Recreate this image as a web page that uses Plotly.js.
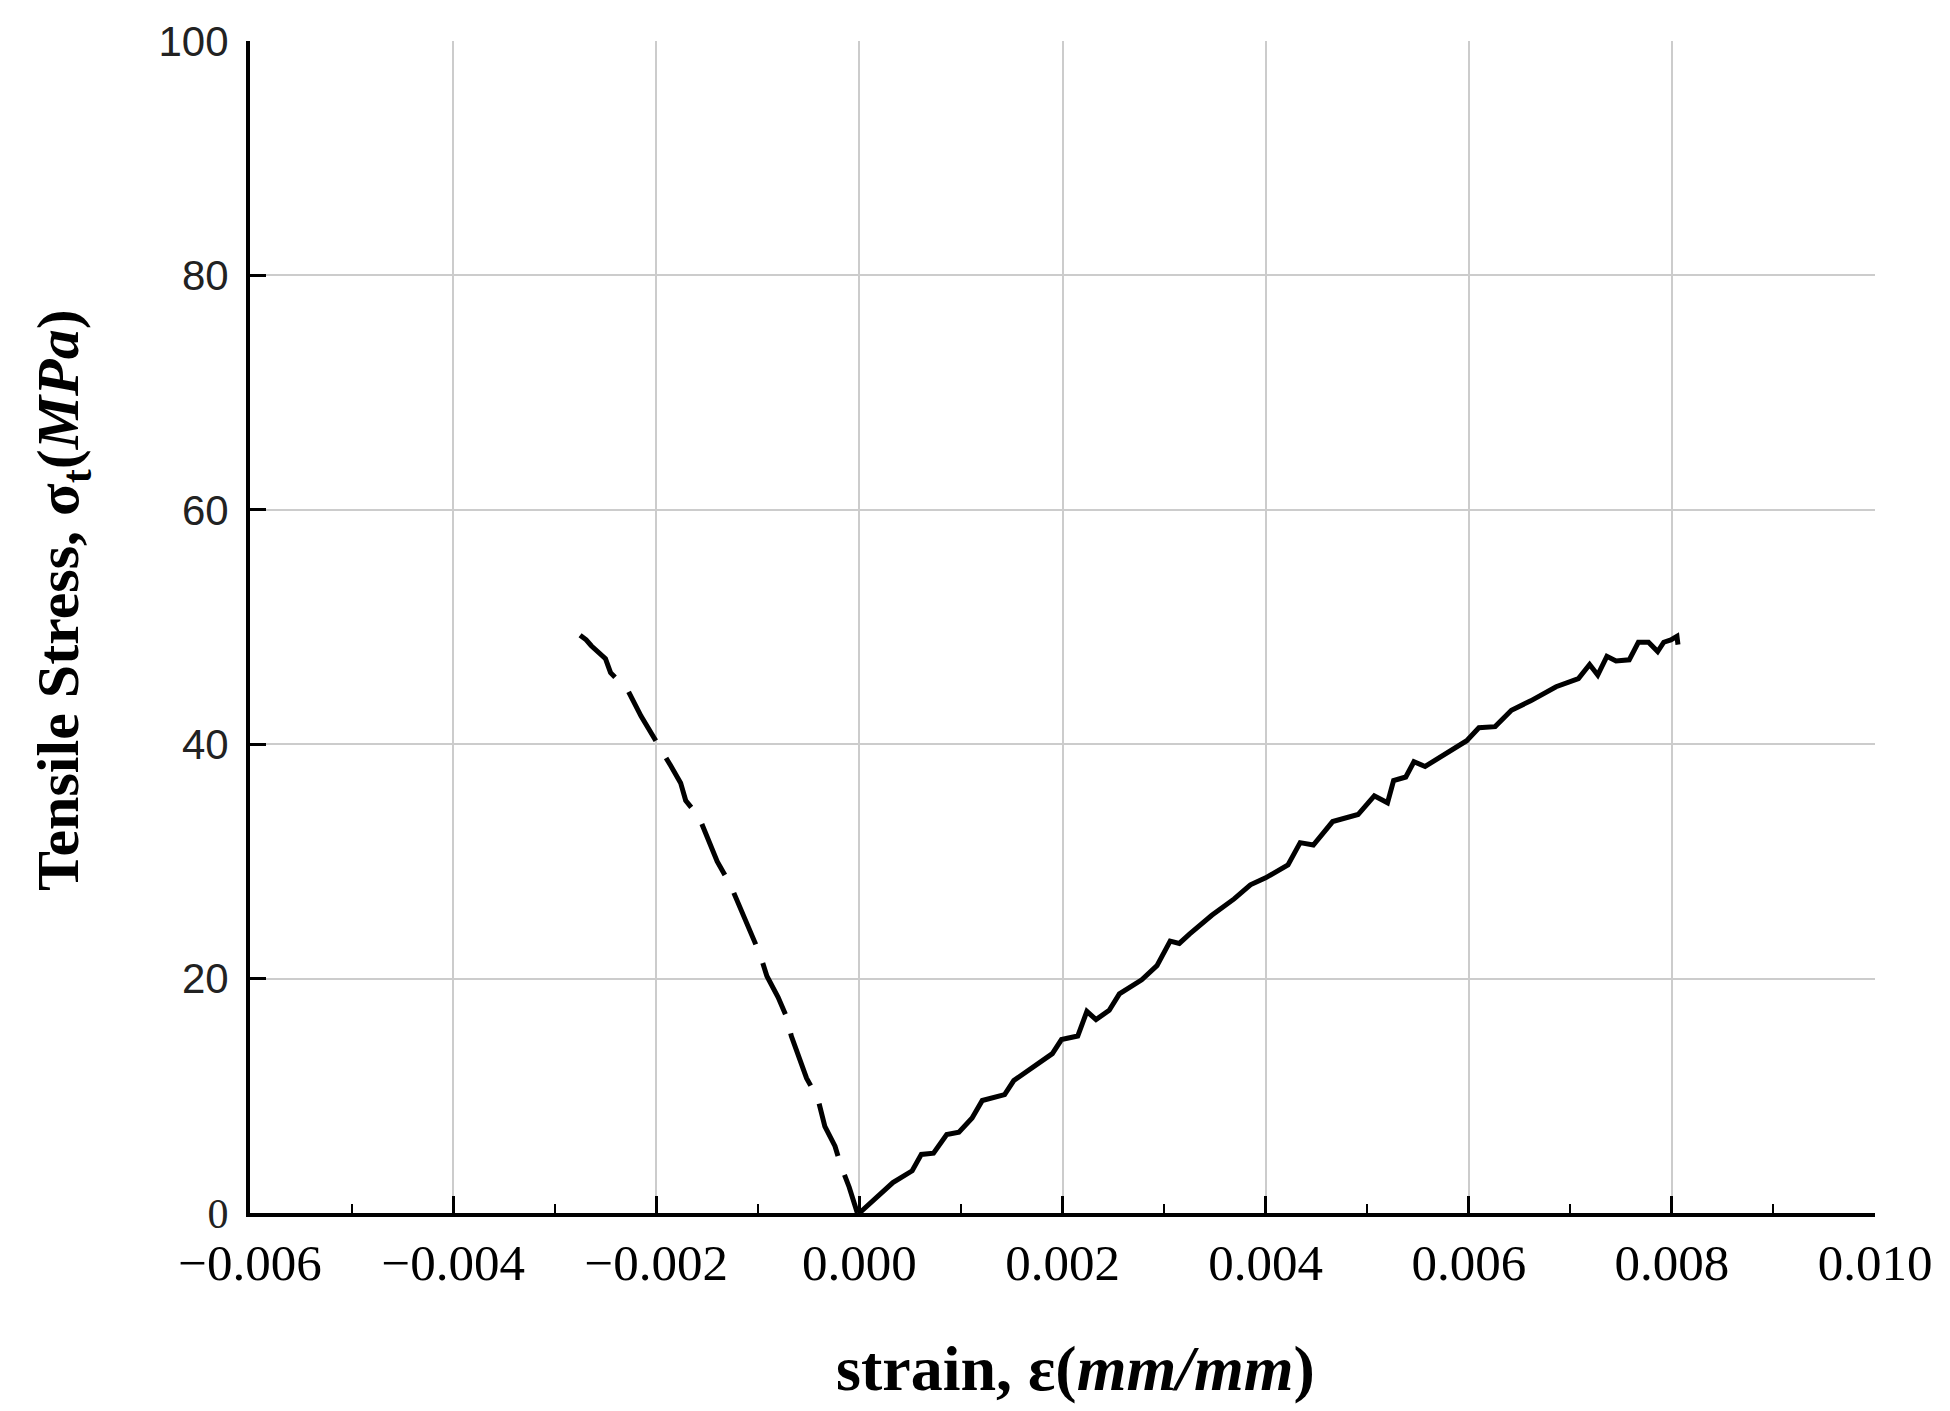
<!DOCTYPE html>
<html>
<head>
<meta charset="utf-8">
<script src="https://cdn.plot.ly/plotly-3.0.1.min.js"></script>
<style>html,body{margin:0;padding:0;background:#fff;}#chart{width:1950px;height:1411px;}</style>
</head>
<body>
<div id="chart"></div>
<script>
// Compression branch (dashed)
const compStrain = [-0.00275,-0.00269,-0.00264,-0.0025,-0.00245,-0.00228,-0.00215,-0.0020,-0.00186,-0.00176,-0.00171,-0.00158,-0.00147,-0.0014,-0.00127,-0.00117,-0.00106,-0.00098,-0.00091,-0.0008,-0.00072,-0.00067,-0.00052,-0.00041,-0.00034,-0.00024,-0.00018,-0.0001,-0.00002];
const compStress = [49.3,48.9,48.4,47.3,46.1,44.6,42.4,40.3,38.2,36.7,35.2,33.8,31.6,30.0,28.0,25.9,23.8,22.1,20.2,18.4,16.8,15.1,11.5,9.8,7.4,5.7,4.0,2.2,0];
// Tension branch (solid)
const tensStrain = [0.0,0.00033,0.00052,0.00061,0.00073,0.00086,0.00098,0.00111,0.00121,0.00143,0.00152,0.00171,0.0019,0.00199,0.00215,0.00224,0.00233,0.00246,0.00256,0.00278,0.00293,0.00306,0.00315,0.00325,0.00347,0.00369,0.00385,0.0040,0.00422,0.00434,0.00447,0.00466,0.00491,0.00507,0.0052,0.00526,0.00538,0.00546,0.00557,0.00598,0.0061,0.00626,0.00642,0.00661,0.00686,0.00708,0.00719,0.00727,0.00736,0.00745,0.00758,0.00767,0.00777,0.00786,0.00792,0.00799,0.00805,0.00806];
const tensStress = [0,2.6,3.6,5.0,5.1,6.7,6.9,8.1,9.6,10.1,11.3,12.5,13.6,14.8,15.1,17.2,16.5,17.3,18.7,19.9,21.1,23.2,23.0,23.8,25.4,26.8,28.0,28.6,29.7,31.6,31.4,33.4,34.0,35.6,35.0,36.9,37.2,38.5,38.1,40.3,41.4,41.5,42.9,43.7,44.9,45.6,46.8,45.9,47.5,47.1,47.2,48.7,48.7,47.9,48.7,48.9,49.2,48.5];

const xTickVals = [-0.006,-0.004,-0.002,0.000,0.002,0.004,0.006,0.008,0.010];
const xTickText = ['\u22120.006','\u22120.004','\u22120.002','0.000','0.002','0.004','0.006','0.008','0.010'];
const yTickVals = [0,20,40,60,80,100];
const yTickText = ['<span style="font-family:Liberation Serif">0</span>','20','40','60','80','100'];
const yTitle = '<b>Tensile Stress, σ<sub>t</sub>(<i>MPa</i>)</b>';
const xTitle = '<b>strain, ε(<i>mm/mm</i>)</b>';

const traces = [
  {x: compStrain, y: compStress, mode:'lines', type:'scatter',
   line:{color:'#000', width:5, dash:'56px,20px'}, showlegend:false},
  {x: tensStrain, y: tensStress, mode:'lines', type:'scatter',
   line:{color:'#000', width:5}, showlegend:false}
];

const layout = {
  width:1950, height:1411,
  paper_bgcolor:'#fff', plot_bgcolor:'#fff',
  margin:{l:250, r:75, t:41, b:198, pad:0},
  showlegend:false,
  xaxis:{
    range:[-0.006,0.010], tickmode:'array', tickvals:xTickVals, ticktext:xTickText,
    showgrid:true, gridcolor:'#cccccc', gridwidth:2, zeroline:false,
    showline:true, linecolor:'#000', linewidth:4, mirror:false,
    ticks:'inside', ticklen:17, tickwidth:3, tickcolor:'#000',
    minor:{ticks:'inside', dtick:0.001, tick0:-0.005, ticklen:9, tickwidth:2, tickcolor:'#000', showgrid:false},
    tickfont:{family:'Liberation Serif', size:51, color:'#000'},
    ticklabelstandoff:2
  },
  yaxis:{
    range:[0,100], tickmode:'array', tickvals:yTickVals, ticktext:yTickText,
    showgrid:true, gridcolor:'#cccccc', gridwidth:2, zeroline:false,
    showline:true, linecolor:'#000', linewidth:4, mirror:false,
    ticks:'inside', ticklen:16, tickwidth:3, tickcolor:'#000',
    tickfont:{family:'Liberation Sans', size:42, color:'#222'},
    ticklabelstandoff:9
  },
  annotations:[
    {text:yTitle, xref:'paper', yref:'paper', x:-0.1157, y:0.523, xanchor:'center', yanchor:'middle',
     textangle:-90, showarrow:false, font:{family:'Liberation Serif', size:60, color:'#000'}},
    {text:xTitle, xref:'paper', yref:'paper', x:0.508, y:-0.133, xanchor:'center', yanchor:'middle',
     showarrow:false, font:{family:'Liberation Serif', size:64, color:'#000'}}
  ]
};

Plotly.newPlot('chart', traces, layout, {displayModeBar:false, staticPlot:true});
</script>
</body>
</html>
